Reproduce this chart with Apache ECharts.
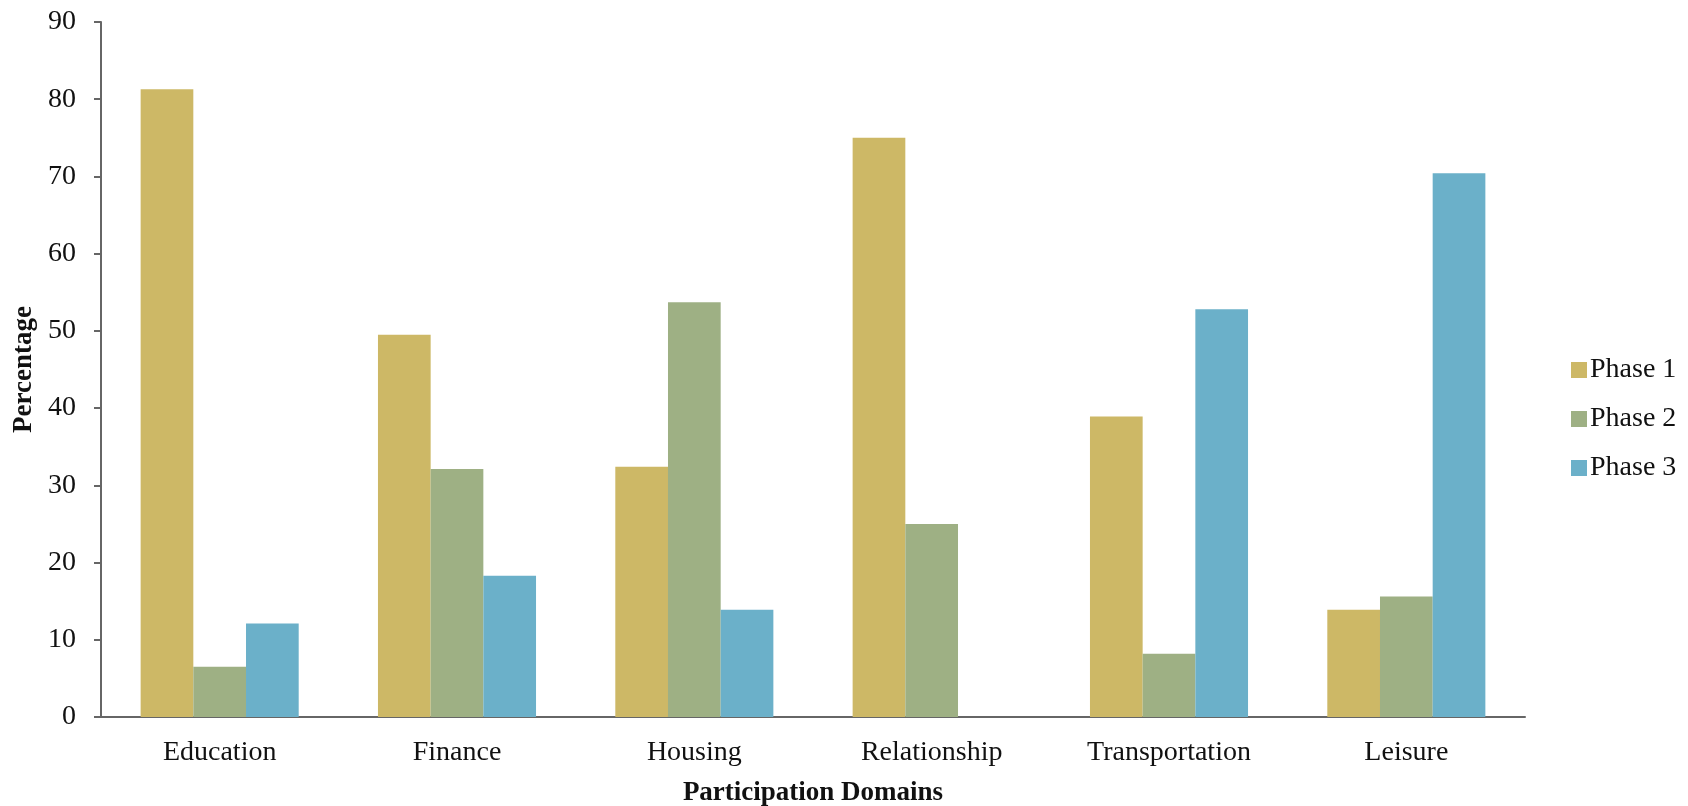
<!DOCTYPE html>
<html>
<head>
<meta charset="utf-8">
<title>Participation Domains by Phase</title>
<script src="https://cdn.jsdelivr.net/npm/echarts@6/dist/echarts.min.js"></script>
<style>
  html, body { margin: 0; padding: 0; background: #ffffff; }
  #chart { width: 1688px; height: 806px; }
</style>
</head>
<body>
<div id="chart"></div>
<script>
// Participation domains on the x axis
const domains = ['Education', 'Finance', 'Housing', 'Relationship', 'Transportation', 'Leisure'];

// Percentage per domain for each phase
const phase1 = [81.3, 49.5, 32.4, 75.0, 38.9, 13.9];
const phase2 = [6.5, 32.1, 53.7, 25.0, 8.2, 15.6];
const phase3 = [12.1, 18.3, 13.9, 0, 52.8, 70.4];

const seriesNames = ['Phase 1', 'Phase 2', 'Phase 3'];
const seriesColors = ['#CDB866', '#9EB084', '#6BB0C9'];

const FONT = '"Liberation Serif", "DejaVu Serif", serif';

const chart = echarts.init(document.getElementById('chart'));

const makeBar = (name, data, color) => ({
  name: name,
  type: 'bar',
  data: data,
  barGap: '0%',
  barCategoryGap: '33.4%',
  itemStyle: { color: color },
  emphasis: { disabled: true }
});

chart.setOption({
  animation: false,
  backgroundColor: '#ffffff',
  textStyle: { fontFamily: FONT },
  grid: {
    left: 101, right: 163, top: 22, bottom: 89,
    containLabel: false,
    outerBoundsMode: 'none'
  },
  legend: {
    orient: 'vertical',
    left: 1566,
    top: 351,
    itemWidth: 16,
    itemHeight: 16,
    itemGap: 21,
    icon: 'rect',
    textStyle: { fontFamily: FONT, fontSize: 28, color: '#111', padding: [0, 0, 0, -2] },
    data: seriesNames
  },
  xAxis: {
    type: 'category',
    data: domains,
    name: 'Participation Domains',
    nameLocation: 'middle',
    nameGap: 63,
    nameTextStyle: { fontFamily: FONT, fontSize: 27, fontWeight: 'bold', color: '#111' },
    axisLine: { show: true, lineStyle: { color: '#666', width: 2 } },
    axisTick: { show: false },
    axisLabel: { fontFamily: FONT, fontSize: 28, color: '#111', margin: 22 },
    splitLine: { show: false }
  },
  yAxis: {
    type: 'value',
    min: 0,
    max: 90,
    interval: 10,
    name: 'Percentage',
    nameLocation: 'middle',
    nameGap: 55,
    nameTextStyle: { fontFamily: FONT, fontSize: 27, fontWeight: 'bold', color: '#111' },
    axisLine: { show: true, lineStyle: { color: '#666', width: 2 } },
    axisTick: { show: true, inside: false, length: 7, lineStyle: { color: '#666', width: 2 } },
    axisLabel: { fontFamily: FONT, fontSize: 28, color: '#111', margin: 25 },
    splitLine: { show: false }
  },
  series: [
    makeBar(seriesNames[0], phase1, seriesColors[0]),
    makeBar(seriesNames[1], phase2, seriesColors[1]),
    makeBar(seriesNames[2], phase3, seriesColors[2])
  ]
});
</script>
</body>
</html>
